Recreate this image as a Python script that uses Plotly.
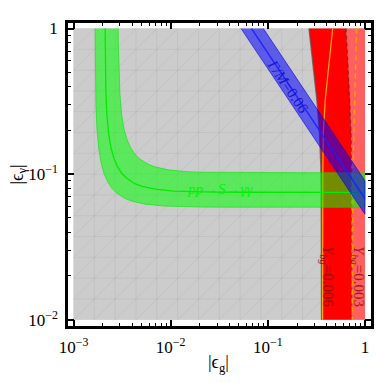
import numpy as np
import plotly.graph_objects as go

# ---------------- data ----------------
region_g = [1e-3, 1.0]          # |eps_g| range of the scanned region
region_gamma = [1e-2, 1.0]      # |eps_gamma| range of the scanned region

# pp -> S -> gamma gamma band (central curve and 1-sigma edges)
green_center_g = [0.002116, 0.00213, 0.00215, 0.00220, 0.00230, 0.00244, 0.00261, 0.00283, 0.00314,
                  0.00352, 0.00427, 0.00507, 0.00692, 0.0107, 0.0150, 0.0273, 0.06, 1.0]
green_center_gamma = [1.0, 0.60, 0.375, 0.263, 0.188, 0.150, 0.128, 0.113, 0.101,
                      0.094, 0.086, 0.0825, 0.0788, 0.0765, 0.0758, 0.0752, 0.0751, 0.0750]
green_outer_g = [0.00167, 0.00168, 0.00170, 0.00174, 0.00182, 0.00193, 0.00206, 0.00224, 0.00248,
                 0.00278, 0.00338, 0.00400, 0.00547, 0.00846, 0.0119, 0.0216, 0.05, 1.0]
green_outer_gamma = [1.0, 0.474, 0.296, 0.207, 0.148, 0.1185, 0.1007, 0.0889, 0.0800,
                     0.0741, 0.0681, 0.0652, 0.0622, 0.0604, 0.0598, 0.0594, 0.0593, 0.0593]
green_inner_g = [0.002885, 0.00289, 0.00293, 0.00300, 0.00313, 0.00331, 0.00355, 0.00385, 0.00427,
                 0.00478, 0.00581, 0.00689, 0.00941, 0.0146, 0.0204, 0.0371, 0.08, 1.0]
green_inner_gamma = [1.0, 0.816, 0.51, 0.357, 0.255, 0.204, 0.1734, 0.153, 0.1377,
                     0.1275, 0.1173, 0.1122, 0.1071, 0.1040, 0.1030, 0.1023, 0.1020, 0.1020]

# Gamma/M = 0.06 band
blue_center_g = [0.068, 1.0]
blue_center_gamma = [1.0, 0.068]
blue_lower_g = [0.053, 1.0]
blue_lower_gamma = [1.0, 0.053]
blue_upper_g = [0.09, 1.0]
blue_upper_gamma = [1.0, 0.09]

# Y_bg regions
red_left_g = [0.265, 0.294, 0.319, 0.340, 0.351, 0.354, 0.357]
red_left_gamma = [1.0, 0.55, 0.324, 0.191, 0.113, 0.0664, 0.01]
red_mid_g = [0.64, 0.67, 0.70, 0.72, 0.73, 0.73]
red_mid_gamma = [1.0, 0.55, 0.324, 0.191, 0.1, 0.01]
orange_solid_g = [0.465, 0.42, 0.39, 0.372, 0.368, 0.366]
orange_solid_gamma = [1.0, 0.55, 0.324, 0.191, 0.1, 0.01]
orange_dash_g = [0.82, 0.80, 0.77, 0.75, 0.74]
orange_dash_gamma = [1.0, 0.55, 0.236, 0.1, 0.01]

x_tickvals = [1e-3, 1e-2, 1e-1, 1]
x_ticktext = ["10<sup>−3</sup>", "10<sup>−2</sup>", "10<sup>−1</sup>", "1"]
y_tickvals = [1e-2, 1e-1, 1]
y_ticktext = ["10<sup>−2</sup>", "10<sup>−1</sup>", "1"]

# labels: (text, |eps_g|, |eps_gamma|, angle, colour, size)
labels = [
    ("<i>pp</i>→<i>S</i>→<i>γγ</i>", 0.032, 0.079, 0, "rgb(0,245,0)", 15),
    ("<i>Γ/M</i>=0.06", 0.159, 0.40, 56, "rgb(20,20,210)", 15),
    ("<i>Y<sub>bg</sub></i>=0.006", 0.405, 0.0197, 90, "rgb(150,15,15)", 15),
    ("<i>Y<sub>bg</sub></i>=0.003", 0.847, 0.0197, 90, "rgb(160,30,30)", 15),
]

FONT = "Liberation Serif, Times New Roman, serif"
MESH_DIVISIONS = 14

fig = go.Figure()

# gray scanned region
fig.add_trace(go.Scatter(
    x=[region_g[0], region_g[1], region_g[1], region_g[0]],
    y=[region_gamma[0], region_gamma[0], region_gamma[1], region_gamma[1]],
    fill="toself", fillcolor="rgb(204,204,204)", mode="lines", line=dict(width=0),
    hoverinfo="skip", showlegend=False))

# faint mesh (decoration)
lgx = np.log10(region_g)
lgy = np.log10(region_gamma)
gx = np.linspace(lgx[0], lgx[1], MESH_DIVISIONS + 1)
gy = np.linspace(lgy[0], lgy[1], MESH_DIVISIONS + 1)
mx, my = [], []
for v in gx:
    mx += [10 ** v, 10 ** v, None]
    my += [region_gamma[0], region_gamma[1], None]
for v in gy:
    mx += [region_g[0], region_g[1], None]
    my += [10 ** v, 10 ** v, None]
for c in range(-MESH_DIVISIONS + 1, MESH_DIVISIONS):
    i0, j0 = max(c, 0), max(-c, 0)
    n = MESH_DIVISIONS - abs(c)
    mx += [10 ** gx[i0], 10 ** gx[i0 + n], None]
    my += [10 ** gy[j0], 10 ** gy[j0 + n], None]
fig.add_trace(go.Scatter(x=mx, y=my, mode="lines", line=dict(color="rgba(0,0,0,0.05)", width=1),
                         hoverinfo="skip", showlegend=False))

# red regions
fig.add_trace(go.Scatter(
    x=red_mid_g + [region_g[1], region_g[1]],
    y=red_mid_gamma + [region_gamma[0], region_gamma[1]],
    fill="toself", fillcolor="rgb(255,95,95)", mode="lines", line=dict(width=0),
    hoverinfo="skip", showlegend=False))
fig.add_trace(go.Scatter(
    x=red_left_g + red_mid_g[::-1],
    y=red_left_gamma + red_mid_gamma[::-1],
    fill="toself", fillcolor="rgb(255,0,0)", mode="lines", line=dict(width=0),
    hoverinfo="skip", showlegend=False))
fig.add_trace(go.Scatter(x=red_left_g, y=red_left_gamma, mode="lines",
                         line=dict(color="rgba(90,90,90,0.75)", width=1.3),
                         hoverinfo="skip", showlegend=False))
fig.add_trace(go.Scatter(x=red_mid_g, y=red_mid_gamma, mode="lines",
                         line=dict(color="rgba(90,40,40,0.7)", width=1.2, dash="4px,3px"),
                         hoverinfo="skip", showlegend=False))
fig.add_trace(go.Scatter(x=orange_solid_g, y=orange_solid_gamma, mode="lines",
                         line=dict(color="rgb(255,170,0)", width=1.2),
                         hoverinfo="skip", showlegend=False))
fig.add_trace(go.Scatter(x=orange_dash_g, y=orange_dash_gamma, mode="lines",
                         line=dict(color="rgb(255,160,0)", width=1.5, dash="5px,4px"),
                         hoverinfo="skip", showlegend=False))

# green band
fig.add_trace(go.Scatter(
    x=green_outer_g + green_inner_g[::-1],
    y=green_outer_gamma + green_inner_gamma[::-1],
    fill="toself", fillcolor="rgba(0,255,0,0.55)", mode="lines",
    line=dict(color="rgba(0,230,0,0.6)", width=1),
    hoverinfo="skip", showlegend=False))
fig.add_trace(go.Scatter(x=green_center_g, y=green_center_gamma, mode="lines",
                         line=dict(color="rgb(0,235,0)", width=1.3),
                         hoverinfo="skip", showlegend=False))

# blue band
fig.add_trace(go.Scatter(
    x=blue_lower_g + blue_upper_g[::-1],
    y=blue_lower_gamma + blue_upper_gamma[::-1],
    fill="toself", fillcolor="rgba(0,0,255,0.55)", mode="lines",
    line=dict(color="rgba(0,0,230,0.6)", width=1),
    hoverinfo="skip", showlegend=False))
fig.add_trace(go.Scatter(x=blue_center_g, y=blue_center_gamma, mode="lines",
                         line=dict(color="rgb(30,30,255)", width=1.3),
                         hoverinfo="skip", showlegend=False))

for text, xv, yv, ang, col, sz in labels:
    fig.add_annotation(x=np.log10(xv), y=np.log10(yv), xref="x", yref="y", text=text,
                       showarrow=False, textangle=ang,
                       font=dict(family=FONT, size=sz, color=col))

# axis titles
fig.add_annotation(x=0.498, y=-0.125, xref="paper", yref="paper", text="|ϵ<sub>g</sub>|",
                   showarrow=False, xanchor="center", yanchor="middle",
                   font=dict(family=FONT, size=18, color="black"))
fig.add_annotation(x=-0.165, y=0.5, xref="paper", yref="paper", text="|ϵ<sub>γ</sub>|",
                   showarrow=False, xanchor="center", yanchor="middle", textangle=-90,
                   font=dict(family=FONT, size=18, color="black"))

minor_x = [m * 10.0 ** e for e in range(-3, 0) for m in range(2, 10)]
minor_y = [m * 10.0 ** e for e in range(-2, 0) for m in range(2, 10)]

axis_common = dict(type="log", showgrid=False, zeroline=False, showline=True, linecolor="black",
                   linewidth=2.5, mirror="allticks", ticks="inside", ticklen=6, tickwidth=1.5,
                   tickcolor="black", automargin=False,
                   tickfont=dict(family=FONT, size=17, color="black"))

fig.update_xaxes(range=[-3.057, 0.062], tickvals=x_tickvals, ticktext=x_ticktext,
                 minor=dict(tickvals=minor_x, ticks="inside", ticklen=3, tickwidth=1, tickcolor="black"),
                 ticklabelstandoff=4, **axis_common)
fig.update_yaxes(range=[-2.043, 0.038], tickvals=y_tickvals, ticktext=y_ticktext,
                 minor=dict(tickvals=minor_y, ticks="inside", ticklen=3, tickwidth=1, tickcolor="black"),
                 ticklabelstandoff=4, **axis_common)

fig.update_layout(width=382, height=383, margin=dict(l=68, r=11, t=23, b=57),
                  plot_bgcolor="white", paper_bgcolor="white", showlegend=False,
                  hovermode=False)

fig.write_html("out.html", config={"displayModeBar": False},
               post_script="document.body.style.margin='0';document.body.style.padding='0';")
